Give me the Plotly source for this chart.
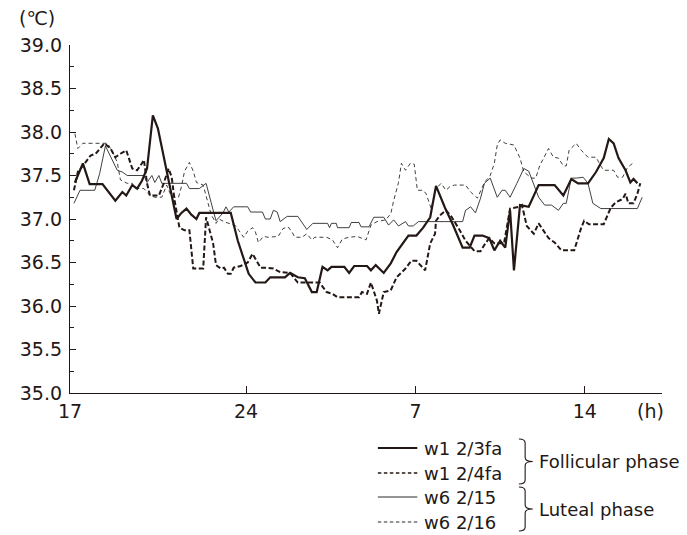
import plotly.graph_objects as go

# ---------------- data (hours on a continuous clock: 24 = midnight, 31 = 7h, 38 = 14h) ----------
a_hours = [16.93, 17.26, 17.54, 18.07, 18.60, 18.89, 19.05, 19.30, 19.50, 19.70, 19.91, 20.15, 20.36,
           20.60, 20.80, 21.01, 21.13, 21.33, 21.54, 21.74, 21.95, 22.07, 23.37, 23.66, 23.90, 24.11,
           24.39, 24.80, 25.00, 25.61, 25.82, 26.14, 26.43, 26.72, 26.92, 27.04, 27.16, 27.37, 27.53,
           28.06, 28.26, 28.47, 29.00, 29.16, 29.36, 29.69, 29.98, 30.22, 30.71, 31.04, 31.32, 31.61,
           31.85, 32.22, 32.54, 32.95, 33.24, 33.44, 33.77, 34.05, 34.26, 34.50, 34.71, 34.91, 35.07,
           35.32, 35.68, 36.09, 36.75, 37.11, 37.44, 37.72, 38.13, 38.46, 38.78, 38.99, 39.19, 39.39,
           39.68, 39.88, 40.01, 40.17]
a_temps = [37.42, 37.64, 37.40, 37.40, 37.21, 37.31, 37.27, 37.39, 37.35, 37.44, 37.58, 38.19, 38.04,
           37.71, 37.41, 37.14, 37.00, 37.07, 37.12, 37.05, 37.00, 37.07, 37.07, 36.75, 36.55, 36.37,
           36.27, 36.27, 36.33, 36.33, 36.38, 36.33, 36.32, 36.16, 36.16, 36.30, 36.45, 36.41, 36.45,
           36.45, 36.38, 36.46, 36.46, 36.41, 36.47, 36.38, 36.49, 36.62, 36.81, 36.81, 36.90, 37.02,
           37.38, 37.13, 36.94, 36.67, 36.67, 36.81, 36.81, 36.78, 36.64, 36.75, 36.67, 37.10, 36.41,
           37.16, 37.14, 37.39, 37.39, 37.27, 37.46, 37.41, 37.41, 37.54, 37.70, 37.92, 37.87, 37.70,
           37.56, 37.42, 37.46, 37.41]

b_hours = [16.89, 17.05, 17.34, 17.58, 17.79, 18.15, 18.40, 18.60, 18.81, 19.05, 19.30, 19.50, 19.70,
           19.78, 19.91, 20.03, 20.40, 20.60, 20.80, 20.93, 21.05, 21.25, 21.46, 21.66, 21.82, 22.23,
           22.35, 22.64, 22.76, 22.96, 23.09, 23.25, 23.37, 23.49, 23.78, 24.07, 24.27, 24.47, 24.60,
           24.88, 25.13, 25.41, 25.82, 26.14, 27.04, 27.33, 27.57, 27.78, 28.67, 28.79, 29.00, 29.16,
           29.41, 29.49, 29.61, 29.69, 29.98, 30.22, 30.59, 30.83, 31.04, 31.40, 31.61, 31.81, 31.85,
           32.01, 32.26, 32.46, 32.83, 33.07, 33.44, 33.69, 33.89, 34.05, 34.26, 34.66, 34.91, 35.27,
           35.40, 35.60, 35.89, 36.09, 36.50, 36.75, 37.03, 37.56, 37.85, 37.97, 38.17, 38.78, 39.07,
           39.27, 39.56, 39.68, 39.80, 40.01, 40.17, 40.29]
b_temps = [37.33, 37.54, 37.64, 37.73, 37.75, 37.87, 37.81, 37.71, 37.75, 37.79, 37.58, 37.56, 37.64,
           37.68, 37.41, 37.27, 37.27, 37.41, 37.58, 37.48, 37.21, 36.90, 36.87, 36.87, 36.43, 36.43,
           37.02, 36.72, 36.47, 36.43, 36.44, 36.37, 36.37, 36.44, 36.46, 36.50, 36.60, 36.50, 36.44,
           36.44, 36.43, 36.39, 36.38, 36.27, 36.27, 36.16, 36.14, 36.10, 36.10, 36.16, 36.14, 36.27,
           36.06, 35.91, 36.06, 36.16, 36.18, 36.33, 36.43, 36.52, 36.52, 36.41, 36.72, 36.83, 36.98,
           37.04, 37.10, 37.04, 36.87, 36.75, 36.63, 36.63, 36.72, 36.78, 36.72, 36.72, 37.12, 37.14,
           37.16, 36.92, 36.83, 36.95, 36.78, 36.73, 36.64, 36.64, 36.90, 36.98, 36.94, 36.94, 37.13,
           37.19, 37.23, 37.29, 37.18, 37.18, 37.29, 37.41]

c_hours = [16.89, 17.14, 17.75, 17.95, 18.19, 18.48, 18.68, 18.89, 19.09, 19.78, 19.91, 20.11, 20.23,
           20.40, 20.52, 21.54, 21.66, 22.07, 22.35, 22.68, 22.76, 23.05, 23.17, 23.29, 23.49, 24.07,
           24.19, 24.68, 24.80, 25.00, 25.13, 25.29, 25.41, 25.70, 26.14, 26.51, 26.76, 27.37, 27.45,
           27.53, 27.73, 27.78, 28.26, 28.35, 28.67, 28.75, 29.08, 29.28, 29.69, 29.89, 30.10, 30.30,
           30.59, 30.71, 30.91, 31.12, 32.95, 33.07, 33.28, 33.48, 33.69, 33.85, 34.09, 34.38, 34.58,
           34.71, 34.91, 35.19, 35.48, 35.68, 36.09, 36.34, 36.62, 36.91, 37.11, 37.23, 37.44, 37.64,
           37.93, 38.13, 38.33, 38.66, 40.17, 40.37]
c_temps = [37.18, 37.33, 37.33, 37.52, 37.84, 37.67, 37.56, 37.54, 37.50, 37.50, 37.42, 37.50, 37.42,
           37.50, 37.41, 37.41, 37.35, 37.35, 37.41, 37.06, 36.98, 37.07, 37.14, 37.08, 37.14, 37.14,
           37.08, 37.08, 37.00, 37.00, 37.10, 37.08, 36.97, 37.03, 37.03, 36.88, 36.95, 36.95, 36.90,
           36.95, 36.95, 36.90, 36.90, 36.96, 36.96, 36.91, 36.91, 37.02, 37.02, 36.93, 36.99, 36.92,
           36.97, 36.92, 36.92, 36.97, 36.97, 37.10, 37.14, 37.07, 37.24, 37.41, 37.47, 37.25, 37.33,
           37.33, 37.25, 37.41, 37.58, 37.55, 37.25, 37.16, 37.16, 37.10, 37.18, 37.18, 37.47, 37.47,
           37.48, 37.41, 37.18, 37.12, 37.12, 37.25]

d_hours = [16.93, 17.05, 17.26, 18.28, 18.56, 18.68, 18.81, 19.09, 19.30, 19.42, 19.78, 20.03, 20.23,
           20.52, 20.72, 20.93, 21.21, 21.33, 21.46, 21.66, 21.82, 21.95, 22.23, 22.43, 22.56, 22.76,
           22.88, 23.09, 23.37, 23.58, 23.70, 23.90, 24.07, 24.27, 24.39, 24.51, 24.72, 24.92, 25.33,
           25.53, 25.74, 25.90, 26.02, 26.31, 26.51, 26.72, 26.84, 27.33, 27.57, 27.78, 27.98, 28.26,
           28.59, 28.75, 28.96, 29.16, 29.41, 29.77, 29.98, 30.10, 30.30, 30.42, 30.59, 30.79, 30.95,
           31.08, 31.32, 31.44, 31.65, 31.85, 32.06, 32.26, 32.42, 32.62, 33.07, 33.28, 33.56, 33.85,
           34.09, 34.26, 34.38, 34.50, 34.71, 35.07, 35.32, 35.48, 35.80, 35.97, 36.13, 36.50, 36.70,
           36.91, 37.11, 37.23, 37.35, 37.64, 37.85, 38.13, 38.46, 38.66, 38.78, 39.19, 39.35, 39.56,
           39.76, 39.97]
d_temps = [37.98, 37.81, 37.87, 37.87, 37.73, 37.65, 37.45, 37.41, 37.41, 37.35, 37.35, 37.27, 37.25,
           37.25, 37.39, 37.25, 37.25, 37.37, 37.55, 37.65, 37.55, 37.42, 37.39, 37.19, 37.05, 36.95,
           37.00, 36.97, 36.94, 36.92, 36.87, 36.79, 36.86, 36.90, 36.85, 36.73, 36.80, 36.79, 36.80,
           36.89, 36.91, 36.85, 36.79, 36.79, 36.83, 36.76, 36.79, 36.79, 36.76, 36.67, 36.77, 36.79,
           36.80, 36.78, 36.76, 36.93, 36.97, 36.99, 37.06, 37.21, 37.42, 37.64, 37.56, 37.64, 37.63,
           37.33, 37.33, 37.29, 37.12, 37.35, 37.41, 37.33, 37.37, 37.39, 37.39, 37.31, 37.24, 37.42,
           37.50, 37.64, 37.85, 37.91, 37.87, 37.85, 37.70, 37.54, 37.47, 37.47, 37.61, 37.81, 37.71,
           37.70, 37.61, 37.61, 37.79, 37.87, 37.79, 37.71, 37.71, 37.61, 37.56, 37.56, 37.48, 37.48,
           37.59, 37.64]

series_names = ["w1 2/3fa", "w1 2/4fa", "w6 2/15", "w6 2/16"]
phase_labels = ["Follicular phase", "Luteal phase"]
x_tick_vals = [16.727, 24, 31, 38]
x_tick_text = ["17", "24", "7", "14"]
x_range = [16.727, 41.187]
y_range = [35.0, 39.0]

# ---------------- styling ----------------
INK = "#231815"
THIN = "#2a2a2a"
FONT = "DejaVu Sans"
FS_TICK = 19
FS_LEG = 18
OFF = 8                      # page body margin of the html page
SCREEN_W, SCREEN_H = 687, 535
PLOT_X0, PLOT_X1 = 62, 662   # plot area on screen
PLOT_Y0, PLOT_Y1 = 45, 393
W, H = SCREEN_W - OFF, SCREEN_H - OFF
L, T = PLOT_X0 - OFF, PLOT_Y0 - OFF
R = W - (PLOT_X1 - OFF)
B = H - (PLOT_Y1 - OFF)
PW, PH = PLOT_X1 - PLOT_X0, PLOT_Y1 - PLOT_Y0

styles = [
    dict(color=INK, width=2.2, dash="solid"),
    dict(color=INK, width=2.0, dash="5px,2.5px"),
    dict(color=THIN, width=0.9, dash="solid"),
    dict(color=THIN, width=0.9, dash="4px,3px"),
]

fig = go.Figure()
traces = []
for xs, ys, name, st in zip([a_hours, b_hours, c_hours, d_hours],
                            [a_temps, b_temps, c_temps, d_temps],
                            series_names, styles):
    traces.append(go.Scatter(x=xs, y=ys, mode="lines", name=name, line=st,
                             showlegend=False, hoverinfo="skip"))
for tr in reversed(traces):   # thick lines on top
    fig.add_trace(tr)


def px(x):
    return (x - PLOT_X0) / PW


def py(y):
    return (PLOT_Y1 - y) / PH


shapes = []
annotations = []

# legend
rows = [448, 473, 497, 522]
for i, (name, st) in enumerate(zip(series_names, styles)):
    lw = [2.0, 1.6, 1.0, 1.0][i]
    dash = "solid" if st["dash"] == "solid" else "3.5px,2.5px"
    shapes.append(dict(type="line", xref="paper", yref="paper",
                       x0=px(374), x1=px(414), y0=py(rows[i]), y1=py(rows[i]),
                       line=dict(color=st["color"], width=lw, dash=dash)))
    annotations.append(dict(text=name, xref="paper", yref="paper", x=px(419), y=py(rows[i]),
                            xanchor="left", yanchor="middle", showarrow=False,
                            font=dict(family=FONT, size=FS_LEG, color=INK)))


def brace(x0, x1, ytop, ybot):
    xm = x0 + (x1 - x0) * 0.45
    ym = (ytop + ybot) / 2
    r = 4
    pts = [
        ("M", [(x0, ytop)]),
        ("Q", [(xm, ytop), (xm, ytop + r)]),
        ("L", [(xm, ym - r)]),
        ("Q", [(xm, ym), (x1, ym)]),
        ("Q", [(xm, ym), (xm, ym + r)]),
        ("L", [(xm, ybot - r)]),
        ("Q", [(xm, ybot), (x0, ybot)]),
    ]
    s = ""
    for cmd, ps in pts:
        s += cmd + " " + " ".join(f"{px(a):.5f},{py(b):.5f}" for a, b in ps) + " "
    return s.strip()


for (yt, yb), lab in zip([(439, 484), (487, 531)], phase_labels):
    shapes.append(dict(type="path", xref="paper", yref="paper", path=brace(517, 531, yt, yb),
                       line=dict(color=INK, width=1.1)))
    annotations.append(dict(text=lab, xref="paper", yref="paper", x=px(535), y=py((yt + yb) / 2),
                            xanchor="left", yanchor="middle", showarrow=False,
                            font=dict(family=FONT, size=FS_LEG, color=INK)))

# unit labels
annotations.append(dict(text="(℃)", xref="paper", yref="paper", x=px(8), y=py(18),
                        xanchor="left", yanchor="middle", showarrow=False,
                        font=dict(family=FONT, size=FS_TICK, color=INK)))
annotations.append(dict(text="(h)", xref="paper", yref="paper", x=px(650), y=py(411),
                        xanchor="center", yanchor="middle", showarrow=False,
                        font=dict(family=FONT, size=FS_TICK, color=INK)))

fig.update_layout(
    width=W, height=H,
    margin=dict(l=L, r=R, t=T, b=B, pad=0),
    paper_bgcolor="white", plot_bgcolor="white",
    font=dict(family=FONT, size=FS_TICK, color=INK),
    shapes=shapes, annotations=annotations,
    showlegend=False,
)
fig.update_xaxes(range=x_range, tickvals=x_tick_vals, ticktext=x_tick_text,
                 showgrid=False, zeroline=False, showline=True, linecolor=INK, linewidth=1.2,
                 ticks="inside", ticklen=7, tickwidth=1, tickcolor=INK,
                 tickfont=dict(family=FONT, size=FS_TICK, color=INK), ticklabelstandoff=1)
fig.update_yaxes(range=y_range, dtick=0.5, tick0=35, tickformat=".1f",
                 showgrid=False, zeroline=False, showline=True, linecolor=INK, linewidth=1.2,
                 ticks="inside", ticklen=6, tickwidth=1, tickcolor=INK,
                 minor=dict(dtick=0.25, tick0=35, ticks="inside", ticklen=4, tickwidth=1, tickcolor=INK,
                            showgrid=False),
                 tickfont=dict(family=FONT, size=FS_TICK, color=INK), ticklabelstandoff=3)

fig.write_html("out.html", config={"displayModeBar": False})
